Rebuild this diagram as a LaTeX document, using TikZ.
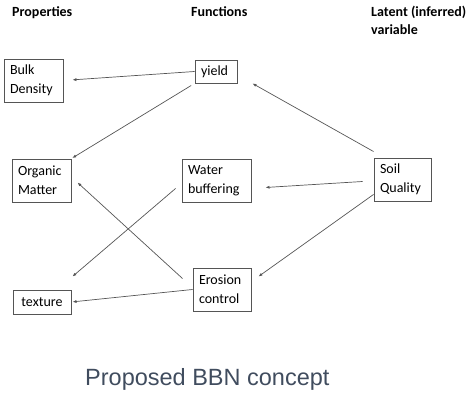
\documentclass[tikz,border=0pt]{standalone}
\usepackage{fontspec}
\setmainfont{Carlito}
\newfontfamily\titlefont{Liberation Sans}
\usetikzlibrary{arrows.meta}
\definecolor{titlegray}{RGB}{64,76,94}
\definecolor{linegray}{RGB}{85,85,85}
\begin{document}
\begin{tikzpicture}[x=1pt,y=1pt,
        box/.style={draw=linegray,line width=0.9pt,align=left,inner xsep=6pt,inner ysep=0pt,
          font=\fontsize{14}{19}\selectfont,text=black},
        head/.style={anchor=base west,align=left,inner sep=0pt,
          font=\fontsize{14}{18}\selectfont\bfseries},
        link/.style={draw=linegray,line width=0.7pt,-{Latex[length=4pt,width=3pt]}}]
    \useasboundingbox (0,0) rectangle (474,401);
    \node[head] (hprop) at (12,384) {Properties};
    \node[head] (hfunc) at (191,384) {Functions};
    \node[head,anchor=north west] (hlat) at (371,395) {Latent (inferred)\\variable};
    \node[box,text width=47pt,minimum height=43pt] (bulk) at (33.5,320.5) {Bulk\\Density};
    \node[box,text width=30pt,minimum height=23pt] (yield) at (216,329.5) {yield};
    \node[box,text width=47pt,minimum height=43pt] (organic) at (41.5,220.5) {Organic\\Matter};
    \node[box,text width=57pt,minimum height=43pt] (water) at (216.5,220.5) {Water\\buffering};
    \node[box,text width=45pt,minimum height=43pt] (soil) at (402.5,221.5) {Soil\\Quality};
    \node[box,text width=46pt,minimum height=43pt] (erosion) at (222,111.5) {Erosion\\control};
    \node[box,text width=46pt,minimum height=24pt,align=center] (texture) at (42,99) {texture};
    \draw[link,shorten >=9pt] (yield.west) -- (bulk.east);
    \draw[link,shorten <=4pt,shorten >=1pt] (yield.south west) -- (organic.north east);
    \draw[link] ([yshift=6pt]soil.north west) -- ([xshift=15pt]yield.south east);
    \draw[link] ([xshift=-11pt,yshift=-2pt]soil.west) -- ([xshift=14pt,yshift=-7pt]water.east);
    \draw[link] ([xshift=-10pt,yshift=-11pt]erosion.north west) -- ([xshift=6pt,yshift=-2pt]organic.east);
    \draw[link] ([xshift=-6pt,yshift=-8pt]water.west) -- ([xshift=1pt,yshift=13pt]texture.north east);
    \draw[link] ([yshift=7pt]soil.south west) -- ([xshift=7pt,yshift=-9pt]erosion.north east);
    \draw[link,shorten >=1pt] (erosion.west) -- (texture.east);
    \node[anchor=base west,inner sep=0pt,text=titlegray,font=\titlefont\fontsize{23.5}{28}\selectfont] (title) at (85,15) {Proposed BBN concept};
\end{tikzpicture}
\end{document}
